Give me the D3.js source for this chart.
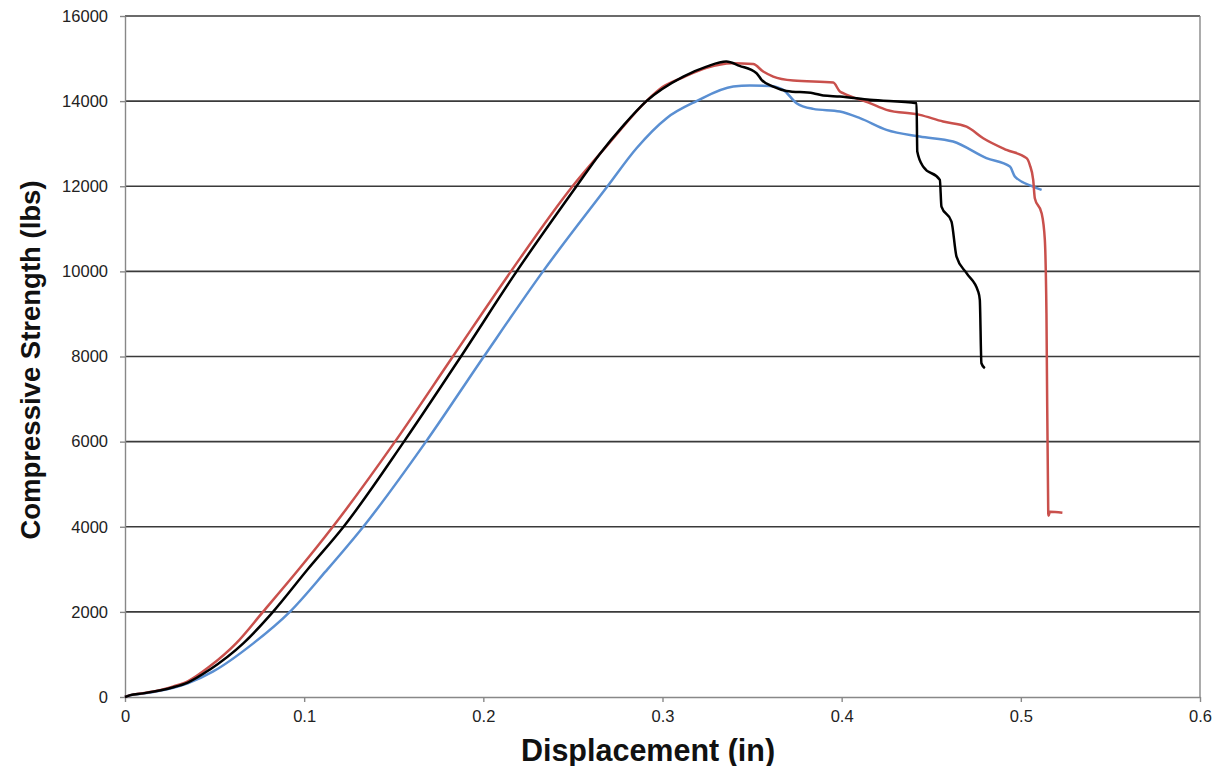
<!DOCTYPE html>
<meta charset="utf-8">
<style>
  body { margin: 0; background: #fff; }
  .grid line { stroke: #3a3a3a; stroke-width: 1.6px; }
  .axis text { font-family: "Liberation Sans", Arial, sans-serif; font-size: 16.5px; fill: #222; }
  .axis path, .axis line { stroke: #888; stroke-width: 1.4px; }
  .title { font-family: "Liberation Sans", Arial, sans-serif; font-weight: bold; fill: #111; }
  .line { fill: none; stroke-width: 2.5px; stroke-linejoin: round; }
</style>
<svg width="1224" height="766"></svg>
<script src="https://d3js.org/d3.v7.min.js"></script>
<script>
  // tick values
  var xTicks = [0, 0.1, 0.2, 0.3, 0.4, 0.5, 0.6];
  var yTicks = [0, 2000, 4000, 6000, 8000, 10000, 12000, 14000, 16000];

  // series: [displacement (in), strength (lbs)]
  var redSeries = [[0, 0], [0.003, 45], [0.01, 90], [0.02, 165], [0.027, 250], [0.035, 370], [0.047, 710],
    [0.062, 1260], [0.077, 2000], [0.097, 3000], [0.116, 4000], [0.1507, 6000], [0.183, 8000],
    [0.2154, 10000], [0.2498, 12000], [0.27, 13000], [0.291, 14000], [0.30, 14330], [0.3116, 14560],
    [0.3246, 14780], [0.3386, 14890], [0.3506, 14870], [0.3562, 14695], [0.3618, 14577], [0.373, 14483],
    [0.3953, 14436], [0.399, 14225], [0.4008, 14186], [0.4157, 13952], [0.425, 13795], [0.4436, 13677],
    [0.4566, 13520], [0.4697, 13402], [0.479, 13129], [0.492, 12855], [0.5032, 12660], [0.505, 12502],
    [0.5069, 12150], [0.5078, 11720], [0.5116, 11367], [0.5134, 10740], [0.5143, 9017], [0.5153, 4317],
    [0.5155, 4260], [0.5162, 4355], [0.5232, 4330]];

  var blackSeries = [[0, 0], [0.003, 45], [0.01, 85], [0.02, 160], [0.027, 230], [0.035, 340], [0.047, 635],
    [0.066, 1260], [0.0826, 2000], [0.102, 3000], [0.122, 4000], [0.1557, 6000], [0.1875, 8000],
    [0.2186, 10000], [0.252, 12000], [0.265, 12760], [0.278, 13420], [0.291, 14000], [0.3116, 14577],
    [0.3246, 14812], [0.3356, 14930], [0.343, 14830], [0.3525, 14656], [0.3553, 14500], [0.3618, 14343],
    [0.3692, 14240], [0.3841, 14186], [0.3897, 14131], [0.399, 14107], [0.4157, 14030], [0.4418, 13952],
    [0.4422, 12815], [0.4455, 12462], [0.4548, 12150], [0.4557, 11522], [0.4613, 11170], [0.4641, 10347],
    [0.4697, 9957], [0.4762, 9525], [0.4771, 9330], [0.478, 7842], [0.4799, 7724]];

  var blueSeries = [[0, 0], [0.003, 40], [0.01, 80], [0.02, 150], [0.027, 215], [0.035, 320], [0.049, 595],
    [0.0716, 1260], [0.092, 2000], [0.112, 2950], [0.133, 4000], [0.168, 6000], [0.2003, 8000],
    [0.2333, 10000], [0.2693, 12000], [0.2855, 12894], [0.3023, 13600], [0.319, 14000], [0.3395, 14343],
    [0.3488, 14366], [0.36, 14358], [0.3674, 14265], [0.3748, 13952], [0.3841, 13818], [0.399, 13755],
    [0.4102, 13600], [0.425, 13325], [0.4436, 13167], [0.4622, 13050], [0.4808, 12660], [0.4939, 12462],
    [0.4967, 12227], [0.5069, 11992], [0.5116, 11915]];

  var svg = d3.select("svg");
  var margin = { top: 16, right: 24, bottom: 69, left: 125 },
    width = +svg.attr("width") - margin.left - margin.right,
    height = +svg.attr("height") - margin.top - margin.bottom;

  var x = d3.scaleLinear().domain([0, 0.6]).range([0, width]);
  var y = d3.scaleLinear().domain([0, 16000]).range([height, 0]);

  var g = svg.append("g")
    .attr("transform", "translate(" + margin.left + "," + margin.top + ")");

  // horizontal gridlines
  g.append("g")
    .attr("class", "grid")
    .selectAll("line")
    .data(yTicks.slice(1))
    .enter().append("line")
    .attr("x1", 0)
    .attr("x2", width)
    .attr("y1", function (d) { return y(d); })
    .attr("y2", function (d) { return y(d); });

  // right border
  g.append("line")
    .attr("x1", width).attr("x2", width)
    .attr("y1", 0).attr("y2", height)
    .attr("stroke", "#888").attr("stroke-width", 1.4);

  g.append("g")
    .attr("class", "axis")
    .attr("transform", "translate(0," + height + ")")
    .call(d3.axisBottom(x).tickValues(xTicks).tickSize(5).tickSizeOuter(0)
      .tickFormat(function (d) { return d === 0 ? "0" : d3.format(".1f")(d); }))
    .call(function (a) { a.selectAll("text").attr("dy", "1.05em"); });

  g.append("g")
    .attr("class", "axis")
    .call(d3.axisLeft(y).tickValues(yTicks).tickSize(5).tickSizeOuter(0).tickFormat(d3.format("d")))
    .call(function (a) { a.selectAll("text").attr("x", -17); });

  var line = d3.line()
    .curve(d3.curveMonotoneX)
    .x(function (d) { return x(d[0]); })
    .y(function (d) { return y(d[1]); });

  g.append("path").datum(blueSeries).attr("class", "line").attr("stroke", "#5a8fd2").attr("d", line);
  g.append("path").datum(redSeries).attr("class", "line").attr("stroke", "#c9504c").attr("d", line);
  g.append("path").datum(blackSeries).attr("class", "line").attr("stroke", "#000").attr("d", line);

  svg.append("text")
    .attr("class", "title")
    .attr("text-anchor", "middle")
    .style("font-size", "30.5px")
    .attr("x", 648)
    .attr("y", 761)
    .text("Displacement (in)");

  svg.append("text")
    .attr("class", "title")
    .attr("text-anchor", "middle")
    .style("font-size", "27.5px")
    .attr("transform", "translate(40,360) rotate(-90)")
    .text("Compressive Strength (lbs)");
</script>
